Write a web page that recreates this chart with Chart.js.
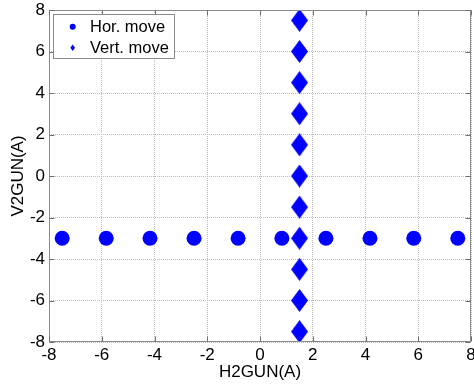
<!DOCTYPE html>
<html><head><meta charset="utf-8">
<script src="https://cdn.jsdelivr.net/npm/chart.js@4.4.0/dist/chart.umd.min.js"></script>
<style>html,body{margin:0;padding:0;background:#fff;}</style>
</head><body>
<canvas id="c" width="474" height="389" style="display:block;width:474px;height:389px"></canvas>
<script>
const seriesLabels = ['Hor. move', 'Vert. move'];
const horX = [-7.5, -5.83, -4.17, -2.5, -0.83, 0.83, 2.5, 4.17, 5.83, 7.5];
const horY = [-3, -3, -3, -3, -3, -3, -3, -3, -3, -3];
const vertX = [1.5, 1.5, 1.5, 1.5, 1.5, 1.5, 1.5, 1.5, 1.5, 1.5, 1.5];
const vertY = [7.5, 6, 4.5, 3, 1.5, 0, -1.5, -3, -4.5, -6, -7.5];
const xTicks = [-8, -6, -4, -2, 0, 2, 4, 6, 8];
const yTicks = [-8, -6, -4, -2, 0, 2, 4, 6, 8];
const xTitle = 'H2GUN(A)';
const yTitle = 'V2GUN(A)';

const BLUE = '#0000ff';
const FONT = 'Liberation Sans, Arial, sans-serif';

function makeDiamond(w, h) {
  const cv = document.createElement('canvas');
  cv.width = w; cv.height = h;
  const g = cv.getContext('2d');
  g.fillStyle = BLUE;
  g.beginPath();
  g.moveTo(w / 2, 0); g.lineTo(w, h / 2); g.lineTo(w / 2, h); g.lineTo(0, h / 2);
  g.closePath(); g.fill();
  return cv;
}
const diamondBig = makeDiamond(17, 23);

const toPts = (xs, ys) => xs.map((x, i) => ({x: x, y: ys[i]}));
const noPad = () => ({left: 0, top: 0, right: 0, bottom: 0});

const boxPlugin = {
  id: 'boxPlugin',
  afterDatasetsDraw(chart) {
    const ctx = chart.ctx;
    const a = chart.chartArea;
    const xs = chart.scales.x, ys = chart.scales.y;
    const L = Math.round(a.left) + 0.5, R = Math.round(a.right) - 0.5;
    const T = Math.round(a.top) + 0.5, B = Math.round(a.bottom) - 0.5;
    ctx.save();
    ctx.strokeStyle = '#8a8a8a';
    ctx.lineWidth = 1;
    ctx.strokeRect(L, T, R - L, B - T);
    ctx.strokeStyle = '#6e6e6e';
    const tl = 5;
    ctx.beginPath();
    xTicks.forEach(v => {
      const px = Math.round(xs.getPixelForValue(v)) + 0.5;
      ctx.moveTo(px, B); ctx.lineTo(px, B - tl);
      ctx.moveTo(px, T); ctx.lineTo(px, T + tl);
    });
    yTicks.forEach(v => {
      const py = Math.round(ys.getPixelForValue(v)) + 0.5;
      ctx.moveTo(L, py); ctx.lineTo(L + tl, py);
      ctx.moveTo(R, py); ctx.lineTo(R - tl, py);
    });
    ctx.stroke();

    // legend
    const lx = 53.5, ly = 14.5, lw = 121, lh = 44;
    ctx.fillStyle = '#fff';
    ctx.fillRect(lx, ly, lw, lh);
    ctx.strokeStyle = '#8a8a8a';
    ctx.strokeRect(lx, ly, lw, lh);
    ctx.fillStyle = BLUE;
    ctx.beginPath(); ctx.arc(72.7, 26.7, 3, 0, Math.PI * 2); ctx.fill();
    ctx.beginPath();
    ctx.moveTo(72.7, 44.5); ctx.lineTo(75, 47.7); ctx.lineTo(72.7, 51); ctx.lineTo(70.4, 47.7);
    ctx.closePath(); ctx.fill();
    ctx.fillStyle = '#000';
    ctx.font = '16.5px ' + FONT;
    ctx.textBaseline = 'middle';
    ctx.textAlign = 'left';
    ctx.fillText(seriesLabels[0], 90, 27);
    ctx.fillText(seriesLabels[1], 90, 48);
    ctx.restore();
  }
};

const tickFont = {family: FONT, size: 17};

new Chart(document.getElementById('c'), {
  type: 'scatter',
  data: {
    datasets: [
      {label: seriesLabels[0], data: toPts(horX, horY), pointStyle: 'circle', pointRadius: 7.5,
       backgroundColor: BLUE, borderColor: BLUE, borderWidth: 0, pointHoverRadius: 7.5},
      {label: seriesLabels[1], data: toPts(vertX, vertY), pointStyle: diamondBig, pointRadius: 10,
       backgroundColor: BLUE, borderColor: BLUE, borderWidth: 0}
    ]
  },
  options: {
    responsive: false,
    animation: false,
    devicePixelRatio: 1,
    layout: {autoPadding: false, padding: {top: 10, right: 3, left: 0, bottom: 0}},
    plugins: {legend: {display: false}, tooltip: {enabled: false}},
    scales: {
      x: {
        type: 'linear', min: -8, max: 8,
        afterBuildTicks: s => { s.ticks = xTicks.map(v => ({value: v})); },
        ticks: {font: tickFont, color: '#000', padding: 3, maxRotation: 0, autoSkip: false},
        grid: {color: '#bdbdbd', drawTicks: false},
        border: {display: false, dash: [1, 1]},
        title: {display: true, text: xTitle, font: tickFont, color: '#000', padding: {top: 0, bottom: 6}},
        afterFit: s => { s.height = 47; s.paddingLeft = 0; s.paddingRight = 0; s.getPadding = noPad; }
      },
      y: {
        type: 'linear', min: -8, max: 8,
        afterBuildTicks: s => { s.ticks = yTicks.map(v => ({value: v})); },
        ticks: {font: tickFont, color: '#000', padding: 4, autoSkip: false},
        grid: {color: '#bdbdbd', drawTicks: false},
        border: {display: false, dash: [1, 1]},
        title: {display: true, text: yTitle, font: tickFont, color: '#000', padding: {top: 8, bottom: 0}},
        afterFit: s => { s.width = 49; s.paddingTop = 0; s.paddingBottom = 0; s.getPadding = noPad; }
      }
    }
  },
  plugins: [boxPlugin]
});
</script>
</body></html>
